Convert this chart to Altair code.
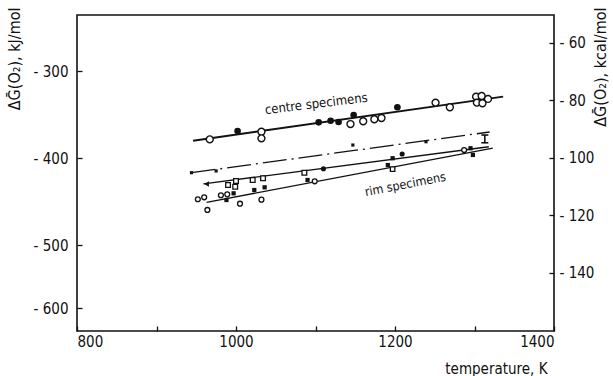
import altair as alt
import pandas as pd

# ---------------- data ----------------
# centre specimens
centre_open_T = [967, 1032, 1032, 1144, 1160, 1174, 1183, 1251, 1269, 1302, 1309, 1317, 1303, 1310]
centre_open_G = [-378.6, -369.8, -377.4, -361.0, -357.8, -355.5, -354.0, -336.4, -341.7, -329.5, -328.7, -332.1, -336.4, -337.1]
centre_fill_T = [1002, 1104, 1119, 1129, 1148, 1203]
centre_fill_G = [-369.0, -359.0, -357.2, -358.6, -350.6, -341.7]
centre_line_T = [946, 1336]
centre_line_G = [-380.1, -329.5]

# upper rim line (dashed) with small squares
lineA_T = [944, 1319]
lineA_G = [-416.9, -370.1]
lineA_pts_T = [944, 975, 1147, 1239]
lineA_pts_G = [-416.9, -414.9, -385.1, -381.3]
errbar_T = [1313]
errbar_lo = [-382.5]
errbar_hi = [-373.6]

# middle rim line
lineB_T = [959, 1318]
lineB_G = [-429.8, -387.1]
arrow_T = [963]
arrow_G = [-429.8]
lineB_fill_T = [1110, 1209]
lineB_fill_G = [-412.3, -395.4]
lineB_sq_T = [990, 1000, 999, 1021, 1034, 1086]
lineB_sq_G = [-431.0, -426.4, -433.0, -425.3, -423.3, -416.9]

# lower rim line
lineC_T = [963, 1323]
lineC_G = [-451.0, -388.7]
rim_open_T = [952, 960, 981, 989, 964, 1005, 1032, 1099, 1287]
rim_open_G = [-447.4, -445.2, -442.8, -441.8, -459.7, -452.5, -447.9, -426.8, -390.8]
rim_sq_T = [988, 997, 1023, 1036, 1090, 1191, 1197, 1295, 1298]
rim_sq_G = [-448.3, -440.6, -436.8, -433.7, -425.3, -408.1, -400.3, -388.8, -396.5]
rim_opensq_T = [1197]
rim_opensq_G = [-412.7]

labels_text = ["centre specimens", "rim specimens"]
labels_T = [1101, 1213]
labels_G = [-337.9, -430.5]

x_ticks = [800, 900, 1000, 1100, 1200, 1300, 1400]
kj_ticks = [-300, -400, -500, -600]
kcal_ticks = [-60, -80, -100, -120, -140]
# the printed kJ axis is not evenly spaced below -500: piecewise scale
kj_domain = [-636.5, -600, -500, -300, -235.6]
kcal_domain = [-160.2, -50.3]
x_domain = [800, 1400]

# ---------------- chart ----------------
W, H = 477, 316
kj_range = [H, 293, 230, 56, 0]
FONT = "'Liberation Sans Narrow', 'DejaVu Sans Condensed', 'Roboto Condensed', 'Roboto', sans-serif"
INK = "#111111"

xs = alt.Scale(domain=x_domain, nice=False, zero=False)
ys = alt.Scale(domain=kj_domain, range=kj_range, nice=False, zero=False)

x_axis = alt.Axis(
    values=x_ticks,
    labelExpr="datum.value % 200 == 0 ? datum.value : ''",
    title="temperature, K",
    domain=False, grid=False, offset=-5, tickSize=5, tickWidth=1.3, tickColor=INK,
    labelPadding=3, labelFontSize=15, labelFont=FONT, labelColor=INK,
    titleFont=FONT, titleFontSize=15, titleFontWeight="normal", titleColor=INK,
    titleAlign="right", titleBaseline="middle", titleX=W - 7, titleY=42,
)
y_axis = alt.Axis(
    values=kj_ticks,
    labelExpr="'- ' + abs(datum.value)",
    title="ΔḠ(O₂), kJ/mol",
    domain=False, grid=False, offset=-5, tickSize=5, tickWidth=1.3, tickColor=INK,
    labelPadding=9, labelFontSize=15, labelFont=FONT, labelColor=INK,
    titleFont=FONT, titleFontSize=16, titleFontWeight="normal", titleColor=INK,
    titleAngle=270, titleAlign="right", titleBaseline="middle", titleX=-68, titleY=-8,
)

def X(field):
    return alt.X(field, type="quantitative", scale=xs, axis=x_axis)

def Y(field):
    return alt.Y(field, type="quantitative", scale=ys, axis=y_axis)

def pts(T, G):
    return pd.DataFrame({"T": T, "G": G})

def line(T, G, width=1.3, dash=None):
    kw = dict(color=INK, strokeWidth=width)
    if dash:
        kw["strokeDash"] = dash
    return alt.Chart(pts(T, G)).mark_line(**kw).encode(x=X("T"), y=Y("G"))

layers = [
    line(centre_line_T, centre_line_G, 1.9),
    line(lineA_T, lineA_G, 1.3, [24, 5, 2, 5]),
    line(lineB_T, lineB_G, 1.4),
    line(lineC_T, lineC_G, 1.4),
    alt.Chart(pts(centre_open_T, centre_open_G)).mark_point(
        shape="circle", size=48, filled=True, fill="white", stroke=INK, strokeWidth=1.4, opacity=1
    ).encode(x=X("T"), y=Y("G")),
    alt.Chart(pts(centre_fill_T, centre_fill_G)).mark_point(
        shape="circle", size=44, filled=True, color=INK, opacity=1
    ).encode(x=X("T"), y=Y("G")),
    alt.Chart(pts(lineA_pts_T, lineA_pts_G)).mark_point(
        shape="square", size=10, filled=True, color=INK, opacity=1
    ).encode(x=X("T"), y=Y("G")),
    alt.Chart(pd.DataFrame({"T": errbar_T, "lo": errbar_lo, "hi": errbar_hi})).mark_rule(
        color=INK, strokeWidth=1.6
    ).encode(x=X("T"), y=Y("lo"), y2="hi"),
    alt.Chart(pts(errbar_T + errbar_T, errbar_lo + errbar_hi)).mark_tick(
        orient="horizontal", size=7, thickness=1.6, color=INK, opacity=1
    ).encode(x=X("T"), y=Y("G")),
    alt.Chart(pts(arrow_T, arrow_G)).mark_point(
        shape="triangle-left", size=30, filled=True, color=INK, opacity=1
    ).encode(x=X("T"), y=Y("G")),
    alt.Chart(pts(lineB_fill_T, lineB_fill_G)).mark_point(
        shape="circle", size=26, filled=True, color=INK, opacity=1
    ).encode(x=X("T"), y=Y("G")),
    alt.Chart(pts(lineB_sq_T, lineB_sq_G)).mark_point(
        shape="square", size=22, filled=True, fill="white", stroke=INK, strokeWidth=1.3, opacity=1
    ).encode(x=X("T"), y=Y("G")),
    alt.Chart(pts(rim_open_T, rim_open_G)).mark_point(
        shape="circle", size=24, filled=True, fill="white", stroke=INK, strokeWidth=1.3, opacity=1
    ).encode(x=X("T"), y=Y("G")),
    alt.Chart(pts(rim_sq_T, rim_sq_G)).mark_point(
        shape="square", size=18, filled=True, color=INK, opacity=1
    ).encode(x=X("T"), y=Y("G")),
    alt.Chart(pts(rim_opensq_T, rim_opensq_G)).mark_point(
        shape="square", size=20, filled=True, fill="white", stroke=INK, strokeWidth=1.3, opacity=1
    ).encode(x=X("T"), y=Y("G")),
    alt.Chart(pd.DataFrame({"T": labels_T[:1], "G": labels_G[:1], "txt": labels_text[:1]})).mark_text(
        font=FONT, fontSize=13, angle=353, color=INK
    ).encode(x=X("T"), y=Y("G"), text="txt:N"),
    alt.Chart(pd.DataFrame({"T": labels_T[1:], "G": labels_G[1:], "txt": labels_text[1:]})).mark_text(
        font=FONT, fontSize=12.5, angle=349, color=INK
    ).encode(x=X("T"), y=Y("G"), text="txt:N"),
]

left = alt.layer(*layers)

right = alt.Chart(pd.DataFrame({"K": kcal_domain})).mark_point(opacity=0).encode(
    y=alt.Y(
        "K:Q",
        scale=alt.Scale(domain=kcal_domain, nice=False, zero=False),
        axis=alt.Axis(
            orient="right", values=kcal_ticks,
            labelExpr="'- ' + abs(datum.value)",
            title="ΔḠ(O₂), kcal/mol",
            domain=False, grid=False, offset=-5, tickSize=5, tickWidth=1.3, tickColor=INK,
            labelPadding=5, labelFontSize=15, labelFont=FONT, labelColor=INK,
            titleFont=FONT, titleFontSize=16, titleFontWeight="normal", titleColor=INK,
            titleAngle=270, titleAlign="right", titleBaseline="middle", titleX=51, titleY=-8,
        ),
    )
)

chart = (
    alt.layer(left, right)
    .resolve_scale(y="independent")
    .properties(
        width=W, height=H,
        autosize=alt.AutoSizeParams(type="none"),
        padding={"left": 77, "top": 15, "right": 59, "bottom": 45},
        background="white",
    )
    .configure_view(stroke=INK, strokeWidth=1.6)
)

chart.save("out.html", embed_options={"renderer": "svg", "actions": False})
